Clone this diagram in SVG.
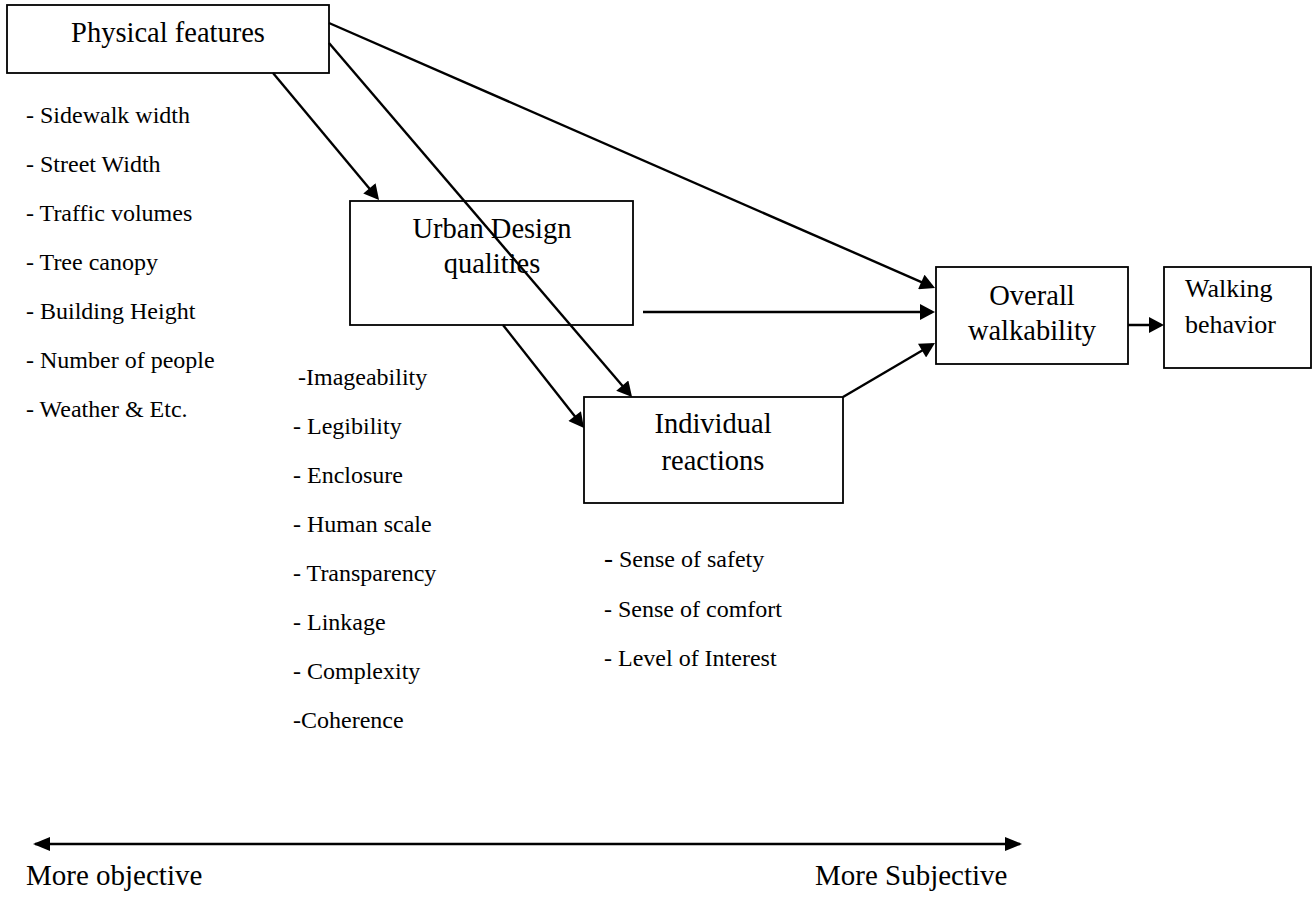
<svg xmlns="http://www.w3.org/2000/svg" width="1313" height="909" viewBox="0 0 1313 909">
  <style>
    text { font-family: "Liberation Serif", "Times New Roman", serif; fill: #000; }
    .title { font-size: 28.5px; text-anchor: middle; }
    .small-title { font-size: 26px; }
    .item { font-size: 24px; }
    .scale { font-size: 29px; }
    .box { fill: #fff; stroke: #000; stroke-width: 1.8; }
    .link { stroke: #000; stroke-width: 2.4; fill: none; marker-end: url(#head); }
    .axis { stroke: #000; stroke-width: 2.6; fill: none; marker-start: url(#tail); marker-end: url(#tip); }
  </style>
  <defs>
    <marker id="head" markerUnits="userSpaceOnUse" markerWidth="16" markerHeight="16" refX="12" refY="8" orient="auto" viewBox="0 0 15 16">
      <path d="M0,0 L15,8 L0,16 Z" fill="#000"/>
    </marker>
    <marker id="tip" markerUnits="userSpaceOnUse" markerWidth="17" markerHeight="14" refX="15" refY="7" orient="auto" viewBox="0 0 17 14">
      <path d="M0,0 L17,7 L0,14 Z" fill="#000"/>
    </marker>
    <marker id="tail" markerUnits="userSpaceOnUse" markerWidth="17" markerHeight="14" refX="2" refY="7" orient="auto" viewBox="0 0 17 14">
      <path d="M17,0 L0,7 L17,14 Z" fill="#000"/>
    </marker>
  </defs>

  <rect width="1313" height="909" fill="#fff"/>

  <g id="physical-features">
    <rect class="box" x="7" y="5" width="322" height="68"/>
    <text class="title" x="168" y="42">Physical features</text>
  </g>

  <g id="urban-design-qualities">
    <rect class="box" x="350" y="201" width="283" height="124"/>
    <text class="title" x="492" y="238">Urban Design</text>
    <text class="title" x="492" y="273">qualities</text>
  </g>

  <g id="individual-reactions">
    <rect class="box" x="584" y="397" width="259" height="106"/>
    <text class="title" x="713" y="433">Individual</text>
    <text class="title" x="713" y="470">reactions</text>
  </g>

  <g id="overall-walkability">
    <rect class="box" x="936" y="267" width="192" height="97"/>
    <text class="title" x="1032" y="305">Overall</text>
    <text class="title" x="1032" y="340">walkability</text>
  </g>

  <g id="walking-behavior">
    <rect class="box" x="1164" y="267" width="147" height="101"/>
    <text class="small-title" x="1185" y="297">Walking</text>
    <text class="small-title" x="1185" y="333">behavior</text>
  </g>

  <g id="connectors">
    <line class="link" x1="273" y1="73" x2="377.1" y2="197.7"/>
    <line class="link" x1="329" y1="43" x2="630.1" y2="394.7"/>
    <line class="link" x1="329" y1="23" x2="932.3" y2="286.8"/>
    <line class="link" x1="643" y1="312" x2="932" y2="312"/>
    <line class="link" x1="503" y1="325" x2="582.1" y2="425.6"/>
    <line class="link" x1="843" y1="397" x2="932.4" y2="344.5"/>
    <line class="link" x1="1128" y1="325" x2="1161" y2="325"/>
  </g>

  <g id="physical-list" class="item">
    <text class="item" x="26" y="123">- Sidewalk width</text>
    <text class="item" x="26" y="172">- Street Width</text>
    <text class="item" x="26" y="221">- Traffic volumes</text>
    <text class="item" x="26" y="270">- Tree canopy</text>
    <text class="item" x="26" y="319">- Building Height</text>
    <text class="item" x="26" y="368">- Number of people</text>
    <text class="item" x="26" y="417">- Weather &amp; Etc.</text>
  </g>

  <g id="design-list">
    <text class="item" x="298" y="385">-Imageability</text>
    <text class="item" x="293" y="434">- Legibility</text>
    <text class="item" x="293" y="483">- Enclosure</text>
    <text class="item" x="293" y="532">- Human scale</text>
    <text class="item" x="293" y="581">- Transparency</text>
    <text class="item" x="293" y="630">- Linkage</text>
    <text class="item" x="293" y="679">- Complexity</text>
    <text class="item" x="293" y="728">-Coherence</text>
  </g>

  <g id="reaction-list">
    <text class="item" x="604" y="567"><tspan font-size="27">-</tspan> Sense of safety</text>
    <text class="item" x="604" y="617">- Sense of comfort</text>
    <text class="item" x="604" y="666">- Level of Interest</text>
  </g>

  <g id="objectivity-scale">
    <line class="axis" x1="35" y1="844" x2="1020" y2="844"/>
    <text class="scale" x="26" y="885">More objective</text>
    <text class="scale" x="815" y="885">More Subjective</text>
  </g>
</svg>
